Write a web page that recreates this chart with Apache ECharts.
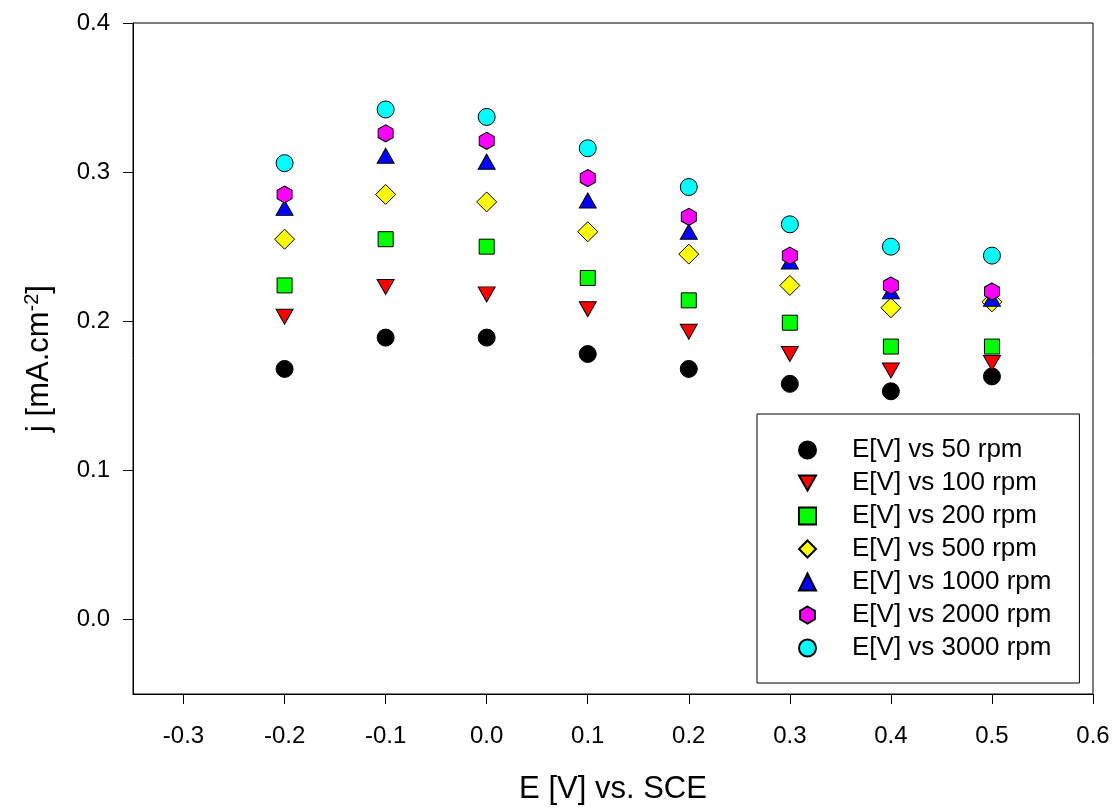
<!DOCTYPE html>
<html>
<head>
<meta charset="utf-8">
<script src="https://cdn.jsdelivr.net/npm/echarts@6/dist/echarts.min.js"></script>
<style>
  html, body { margin: 0; padding: 0; background: #fff; }
  #main { width: 1117px; height: 810px; }
</style>
</head>
<body>
<div id="main"></div>
<script>
// E [V] vs. SCE
var potentials = [-0.2, -0.1, 0.0, 0.1, 0.2, 0.3, 0.4, 0.5];
// j [mA.cm-2] per rotation speed
var rpm50   = [0.168, 0.189, 0.189, 0.178, 0.168, 0.158, 0.153, 0.163];
var rpm100  = [0.203, 0.223, 0.218, 0.208, 0.193, 0.178, 0.167, 0.172];
var rpm200  = [0.224, 0.255, 0.250, 0.229, 0.214, 0.199, 0.183, 0.183];
var rpm500  = [0.255, 0.285, 0.280, 0.260, 0.245, 0.224, 0.209, 0.213];
var rpm1000 = [0.276, 0.311, 0.307, 0.281, 0.260, 0.240, 0.220, 0.215];
var rpm2000 = [0.285, 0.326, 0.321, 0.296, 0.270, 0.244, 0.224, 0.220];
var rpm3000 = [0.306, 0.342, 0.337, 0.316, 0.290, 0.265, 0.250, 0.244];
var seriesNames = ['E[V] vs 50 rpm', 'E[V] vs 100 rpm', 'E[V] vs 200 rpm', 'E[V] vs 500 rpm',
                   'E[V] vs 1000 rpm', 'E[V] vs 2000 rpm', 'E[V] vs 3000 rpm'];
var xTicks = [-0.3, -0.2, -0.1, 0.0, 0.1, 0.2, 0.3, 0.4, 0.5, 0.6];
var yTicks = [0.0, 0.1, 0.2, 0.3, 0.4];

var hexagon = 'path://M0,-1 L0.866,-0.5 L0.866,0.5 L0,1 L-0.866,0.5 L-0.866,-0.5 Z';
var downTriangle = 'path://M0,0 L17,0 L8.5,15 Z';

function pairs(values) {
    var out = [];
    for (var i = 0; i < potentials.length; i++) {
        out.push([potentials[i], values[i]]);
    }
    return out;
}

function makeSeries(name, values, color, symbol, size) {
    return {
        name: name,
        type: 'scatter',
        data: pairs(values),
        symbol: symbol,
        symbolSize: size,
        itemStyle: { color: color, borderColor: '#000', borderWidth: 1, opacity: 1 },
        emphasis: { disabled: true }
    };
}

var font = 'Liberation Sans, Arial, sans-serif';
var myChart = echarts.init(document.getElementById('main'));
var option = {
    animation: false,
    textStyle: { fontFamily: font },
    grid: {
        left: 133, top: 23, right: 24, bottom: 114,
        show: true, borderColor: '#000', borderWidth: 1
    },
    legend: {
        orient: 'vertical',
        left: 757, top: 414,
        itemWidth: 17, itemHeight: 17,
        itemGap: 7,
        padding: [23, 28, 22, 41],
        borderColor: '#000', borderWidth: 1,
        backgroundColor: '#fff',
        selectedMode: false,
        textStyle: { fontSize: 26, color: '#000', fontFamily: font, lineHeight: 26, padding: [0, 0, 0, 31] },
        data: seriesNames
    },
    xAxis: {
        type: 'value',
        min: -0.35, max: 0.6,
        name: 'E [V] vs. SCE',
        nameLocation: 'middle',
        nameGap: 80,
        nameTextStyle: { fontSize: 31, color: '#000', fontFamily: font },
        axisLine: { show: true, onZero: false, lineStyle: { color: '#000', width: 1 } },
        axisTick: { show: true, inside: false, length: 10, lineStyle: { color: '#000' }, customValues: xTicks },
        axisLabel: {
            fontSize: 24, color: '#000', margin: 30, customValues: xTicks,
            formatter: function (v) { return v.toFixed(1); }
        },
        splitLine: { show: false }
    },
    yAxis: {
        type: 'value',
        min: -0.05, max: 0.4,
        name: 'j [mA.cm{sup|-2}]',
        nameLocation: 'middle',
        nameGap: 77,
        nameTextStyle: {
            fontSize: 31, color: '#000', fontFamily: font, lineHeight: 34,
            rich: { sup: { fontSize: 20, verticalAlign: 'top', lineHeight: 20, color: '#000', fontFamily: font } }
        },
        axisLine: { show: true, onZero: false, lineStyle: { color: '#000', width: 1 } },
        axisTick: { show: true, inside: false, length: 10, lineStyle: { color: '#000' }, customValues: yTicks },
        axisLabel: {
            fontSize: 24, color: '#000', margin: 23, customValues: yTicks,
            formatter: function (v) { return v.toFixed(1); }
        },
        splitLine: { show: false }
    },
    series: [
        makeSeries(seriesNames[0], rpm50, '#000000', 'circle', 17),
        makeSeries(seriesNames[1], rpm100, '#ff0000', downTriangle, [17, 15]),
        makeSeries(seriesNames[2], rpm200, '#00ff00', 'rect', 15),
        makeSeries(seriesNames[3], rpm500, '#ffff00', 'diamond', 20),
        makeSeries(seriesNames[4], rpm1000, '#0000ff', 'triangle', [17, 15]),
        makeSeries(seriesNames[5], rpm2000, '#ff00ff', hexagon, [15, 17]),
        makeSeries(seriesNames[6], rpm3000, '#00ffff', 'circle', 17)
    ]
};
myChart.setOption(option);
</script>
</body>
</html>
